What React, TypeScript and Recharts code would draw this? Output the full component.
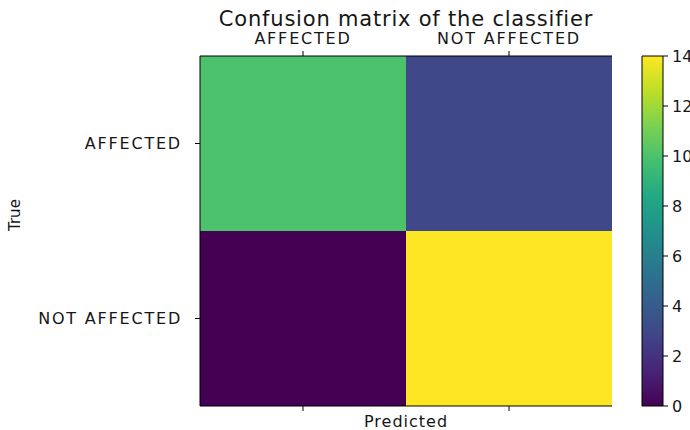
import { BarChart, Bar, XAxis, YAxis, Cell, Label } from "recharts";

const predictedLabels = ["AFFECTED", "NOT AFFECTED"];
const trueLabels = ["AFFECTED", "NOT AFFECTED"];
// rows = true class, columns = predicted class
const affectedRow = [10, 3];
const notAffectedRow = [0, 14];
const colorbarTicks = [0, 2, 4, 6, 8, 10, 12, 14];
const vmax = 14;

const viridisStops = [
  "#440154", "#482475", "#414487", "#355f8d", "#2a788e", "#21918c",
  "#22a884", "#44bf70", "#7ad151", "#bddf26", "#fde725",
];

function hexToRgb(h: string) {
  return [1, 3, 5].map((i) => parseInt(h.slice(i, i + 2), 16));
}

function viridis(t: number) {
  const x = Math.max(0, Math.min(1, t)) * (viridisStops.length - 1);
  const i = Math.min(Math.floor(x), viridisStops.length - 2);
  const f = x - i;
  const a = hexToRgb(viridisStops[i]);
  const b = hexToRgb(viridisStops[i + 1]);
  const c = a.map((v, k) => Math.round(v + (b[k] - v) * f));
  return `rgb(${c[0]},${c[1]},${c[2]})`;
}

const cells = predictedLabels.map((p) => ({ pred: p, notAffected: 1, affected: 1 }));
const colorbarData = [{ name: "cb", value: vmax }];

const font = "DejaVu Sans, sans-serif";
const textColor = "#161616";
const tickStyle = { fontSize: 16, fill: textColor, fontFamily: font, letterSpacing: 1.8 };

export default function App() {
  return (
    <div
      style={{
        position: "absolute",
        left: 0,
        top: 0,
        width: 690,
        height: 430,
        overflow: "hidden",
        background: "#fff",
        fontFamily: font,
      }}
    >
      <div
        style={{
          position: "absolute",
          left: 200,
          width: 412,
          top: 7,
          textAlign: "center",
          fontSize: 21,
          color: textColor,
          letterSpacing: 0.8,
          whiteSpace: "nowrap",
        }}
      >
        Confusion matrix of the classifier
      </div>
      <div style={{ position: "absolute", left: 0, top: 0 }}>
        <BarChart
          width={690}
          height={430}
          data={cells}
          margin={{ top: 36, right: 78, bottom: 0, left: 10 }}
          barCategoryGap={0}
          barGap={0}
        >
          <XAxis
            dataKey="pred"
            orientation="bottom"
            height={24}
            tickLine={{ stroke: "#000" }}
            axisLine={{ stroke: "#000" }}
            tickSize={5}
            tickFormatter={() => ""}
          >
            <Label value="Predicted" position="insideBottom" offset={3} style={{ fontSize: 16, fill: textColor, fontFamily: font, letterSpacing: 1 }} />
          </XAxis>
          <XAxis
            xAxisId="top"
            dataKey="pred"
            orientation="top"
            height={20}
            tickLine={{ stroke: "#000" }}
            axisLine={{ stroke: "#000" }}
            tickSize={5}
            tickMargin={7}
            tick={tickStyle}
          />
          <YAxis
            type="number"
            domain={[0, 2]}
            ticks={[0.5, 1.5]}
            width={190}
            tickLine={{ stroke: "#000" }}
            axisLine={{ stroke: "#000" }}
            tickSize={5}
            tickMargin={13}
            tick={tickStyle}
            tickFormatter={(v: number) => (v > 1 ? trueLabels[0] : trueLabels[1])}
          >
            <Label value="True" angle={-90} position="insideLeft" offset={5} style={{ fontSize: 15, fill: textColor, fontFamily: font }} />
          </YAxis>
          <YAxis
            yAxisId="right"
            orientation="right"
            type="number"
            domain={[0, 2]}
            width={0}
            tick={false}
            tickLine={false}
            axisLine={{ stroke: "#000" }}
          />
          <Bar dataKey="notAffected" stackId="m" isAnimationActive={false}>
            {notAffectedRow.map((v, i) => (
              <Cell key={i} fill={viridis(v / vmax)} />
            ))}
          </Bar>
          <Bar dataKey="affected" stackId="m" isAnimationActive={false}>
            {affectedRow.map((v, i) => (
              <Cell key={i} fill={viridis(v / vmax)} />
            ))}
          </Bar>
        </BarChart>
      </div>
      <div style={{ position: "absolute", left: 630, top: 0 }}>
        <BarChart
          width={83}
          height={430}
          data={colorbarData}
          margin={{ top: 56, right: 0, bottom: 24, left: 12 }}
          barCategoryGap={0}
        >
          <defs>
            <linearGradient id="viridis" x1="0" y1="1" x2="0" y2="0">
              {viridisStops.map((c, i) => (
                <stop key={i} offset={i / (viridisStops.length - 1)} stopColor={c} />
              ))}
            </linearGradient>
          </defs>
          <XAxis dataKey="name" hide />
          <YAxis
            orientation="right"
            type="number"
            domain={[0, vmax]}
            ticks={colorbarTicks}
            width={50}
            axisLine={false}
            tickLine={{ stroke: "#000" }}
            tickSize={5}
            tickMargin={4}
            tick={{ fontSize: 16, fill: textColor, fontFamily: font }}
            interval={0}
          />
          <Bar dataKey="value" fill="url(#viridis)" stroke="#000" strokeWidth={1} isAnimationActive={false} />
        </BarChart>
      </div>
    </div>
  );
}
